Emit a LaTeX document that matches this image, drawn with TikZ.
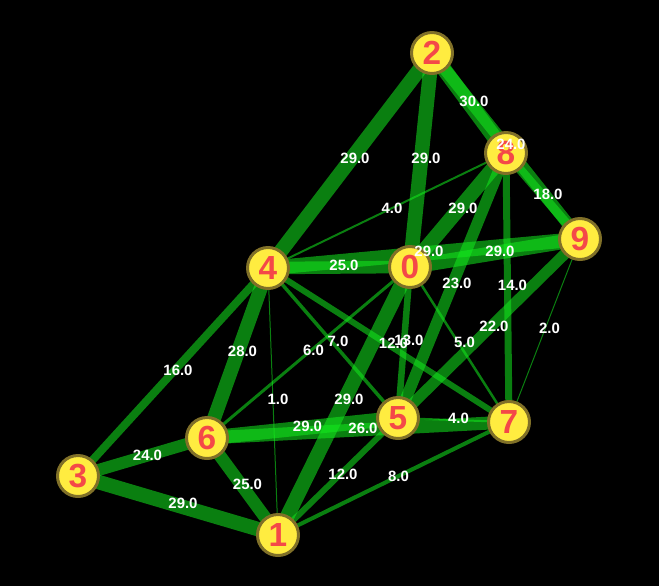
\documentclass[tikz,border=0pt]{standalone}
\usepackage{fontspec}
\setmainfont{Liberation Sans}
\usetikzlibrary{positioning}

\definecolor{vtxFill}{RGB}{255,236,64}
\definecolor{vtxRim}{RGB}{128,112,40}
\definecolor{vtxText}{RGB}{244,72,72}
\definecolor{edgeGreen}{RGB}{20,235,30}

\pgfdeclarelayer{edgelayer}
\pgfdeclarelayer{labellayer}
\pgfsetlayers{edgelayer,main,labellayer}

\tikzset{
    vtx/.style={circle, minimum size=0.82cm, inner sep=0pt, draw=vtxRim, fill=vtxFill, text=vtxText, line width=0.06cm, font=\fontsize{19}{21}\bfseries\selectfont},
    edge/.style={draw=edgeGreen, draw opacity=0.54, line cap=butt},
    wlbl/.style={text=white, inner sep=0pt, font=\fontsize{8.5}{10}\bfseries\selectfont, xshift=0.1cm, yshift=0.04cm}
}

\begin{document}
\begin{tikzpicture}[x=0.02cm, y=-0.02cm]

    % vertices
    \node[vtx] (ndV0) at (410,267) {0};
    \node[vtx] (ndV1) at (278,535) {1};
    \node[vtx] (ndV2) at (432,53) {2};
    \node[vtx] (ndV3) at (78,476) {3};
    \node[vtx] (ndV4) at (268,268) {4};
    \node[vtx] (ndV5) at (398,418) {5};
    \node[vtx] (ndV6) at (207,438) {6};
    \node[vtx] (ndV7) at (509,422) {7};
    \node[vtx] (ndV8) at (506,153) {8};
    \node[vtx] (ndV9) at (580,239) {9};

    \begin{pgfonlayer}{edgelayer}
    \fill[black] (0,0) rectangle (659,586);
    \useasboundingbox (0,0) rectangle (659,586);
    % weighted edges
    \draw[edge, line width=0.29cm] (ndV2.center) -- (ndV4.center);
    \draw[edge, line width=0.29cm] (ndV2.center) -- (ndV0.center);
    \draw[edge, line width=0.30cm] (ndV2.center) -- (ndV8.center);
    \draw[edge, line width=0.24cm] (ndV2.center) -- (ndV9.center);
    \draw[edge, line width=0.18cm] (ndV8.center) -- (ndV9.center);
    \draw[edge, line width=0.04cm] (ndV8.center) -- (ndV4.center);
    \draw[edge, line width=0.29cm] (ndV8.center) -- (ndV0.center);
    \draw[edge, line width=0.23cm] (ndV8.center) -- (ndV5.center);
    \draw[edge, line width=0.14cm] (ndV8.center) -- (ndV7.center);
    \draw[edge, line width=0.25cm] (ndV4.center) -- (ndV0.center);
    \draw[edge, line width=0.29cm] (ndV4.center) -- (ndV9.center);
    \draw[edge, line width=0.29cm] (ndV0.center) -- (ndV9.center);
    \draw[edge, line width=0.16cm] (ndV4.center) -- (ndV3.center);
    \draw[edge, line width=0.28cm] (ndV4.center) -- (ndV6.center);
    \draw[edge, line width=0.02cm] (ndV4.center) -- (ndV1.center);
    \draw[edge, line width=0.07cm] (ndV4.center) -- (ndV5.center);
    \draw[edge, line width=0.12cm] (ndV4.center) -- (ndV7.center);
    \draw[edge, line width=0.06cm] (ndV0.center) -- (ndV6.center);
    \draw[edge, line width=0.13cm] (ndV0.center) -- (ndV5.center);
    \draw[edge, line width=0.05cm] (ndV0.center) -- (ndV7.center);
    \draw[edge, line width=0.29cm] (ndV0.center) -- (ndV1.center);
    \draw[edge, line width=0.22cm] (ndV9.center) -- (ndV5.center);
    \draw[edge, line width=0.02cm] (ndV9.center) -- (ndV7.center);
    \draw[edge, line width=0.29cm] (ndV6.center) -- (ndV5.center);
    \draw[edge, line width=0.26cm] (ndV6.center) -- (ndV7.center);
    \draw[edge, line width=0.04cm] (ndV5.center) -- (ndV7.center);
    \draw[edge, line width=0.24cm] (ndV6.center) -- (ndV3.center);
    \draw[edge, line width=0.29cm] (ndV3.center) -- (ndV1.center);
    \draw[edge, line width=0.25cm] (ndV6.center) -- (ndV1.center);
    \draw[edge, line width=0.12cm] (ndV5.center) -- (ndV1.center);
    \draw[edge, line width=0.08cm] (ndV7.center) -- (ndV1.center);
    \end{pgfonlayer}

    \begin{pgfonlayer}{labellayer}
    % weights
    \path (ndV2.center) -- node[wlbl] {29.0} (ndV4.center);
    \path (ndV2.center) -- node[wlbl] {29.0} (ndV0.center);
    \path (ndV2.center) -- node[wlbl] {30.0} (ndV8.center);
    \path (ndV2.center) -- node[wlbl] {24.0} (ndV9.center);
    \path (ndV8.center) -- node[wlbl] {18.0} (ndV9.center);
    \path (ndV8.center) -- node[wlbl] {4.0} (ndV4.center);
    \path (ndV8.center) -- node[wlbl] {29.0} (ndV0.center);
    \path (ndV8.center) -- node[wlbl] {23.0} (ndV5.center);
    \path (ndV8.center) -- node[wlbl] {14.0} (ndV7.center);
    \path (ndV4.center) -- node[wlbl] {25.0} (ndV0.center);
    \path (ndV4.center) -- node[wlbl] {29.0} (ndV9.center);
    \path (ndV0.center) -- node[wlbl] {29.0} (ndV9.center);
    \path (ndV4.center) -- node[wlbl] {16.0} (ndV3.center);
    \path (ndV4.center) -- node[wlbl] {28.0} (ndV6.center);
    \path (ndV4.center) -- node[wlbl] {1.0} (ndV1.center);
    \path (ndV4.center) -- node[wlbl] {7.0} (ndV5.center);
    \path (ndV4.center) -- node[wlbl] {12.0} (ndV7.center);
    \path (ndV0.center) -- node[wlbl] {6.0} (ndV6.center);
    \path (ndV0.center) -- node[wlbl] {13.0} (ndV5.center);
    \path (ndV0.center) -- node[wlbl] {5.0} (ndV7.center);
    \path (ndV0.center) -- node[wlbl] {29.0} (ndV1.center);
    \path (ndV9.center) -- node[wlbl] {22.0} (ndV5.center);
    \path (ndV9.center) -- node[wlbl] {2.0} (ndV7.center);
    \path (ndV6.center) -- node[wlbl] {29.0} (ndV5.center);
    \path (ndV6.center) -- node[wlbl] {26.0} (ndV7.center);
    \path (ndV5.center) -- node[wlbl] {4.0} (ndV7.center);
    \path (ndV6.center) -- node[wlbl] {24.0} (ndV3.center);
    \path (ndV3.center) -- node[wlbl] {29.0} (ndV1.center);
    \path (ndV6.center) -- node[wlbl] {25.0} (ndV1.center);
    \path (ndV5.center) -- node[wlbl] {12.0} (ndV1.center);
    \path (ndV7.center) -- node[wlbl] {8.0} (ndV1.center);
    \end{pgfonlayer}

\end{tikzpicture}
\end{document}
